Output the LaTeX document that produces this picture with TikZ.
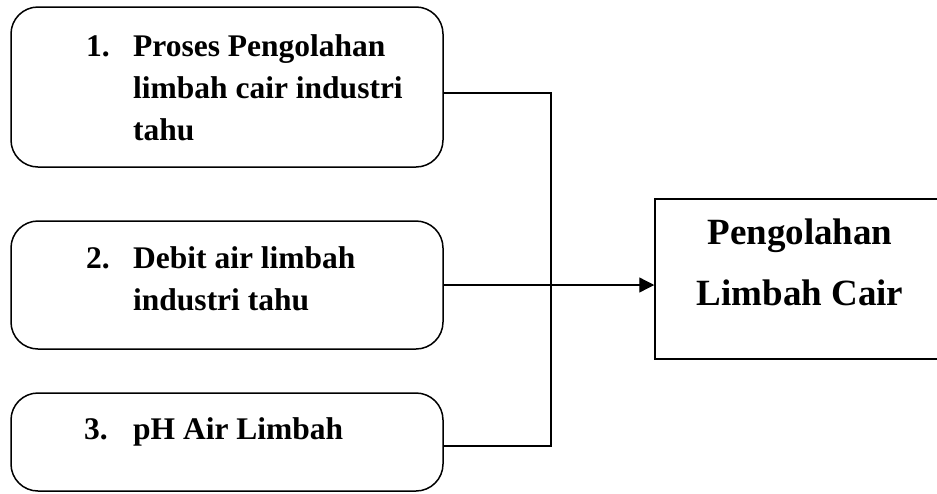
\documentclass[tikz,border=0pt]{standalone}
\usepackage{fontspec}
\setmainfont{Liberation Serif}
\usetikzlibrary{arrows.meta,calc}

\begin{document}
\begin{tikzpicture}[x=1pt, y=-1pt, >={Triangle[length=15pt,width=15pt]},
  faktor/.style={draw, line width=1.5pt, rounded corners=27pt, minimum width=432pt, inner sep=0pt},
  hasil/.style={draw, line width=1.5pt, minimum width=290pt, minimum height=160pt, inner sep=0pt},
  isi/.style={anchor=base west, inner sep=0pt, font=\fontsize{31.5}{42}\selectfont\bfseries},
  judul/.style={anchor=base, inner sep=0pt, font=\fontsize{37}{44}\selectfont\bfseries},
  link/.style={line width=1.3pt}]
  \clip (0,0) rectangle (937,493);

  % --- kotak faktor (kiri) ---
  \node[faktor, minimum height=160pt] (b1) at (227,87) {};
  \node[faktor, minimum height=128pt] (b2) at (227,285) {};
  \node[faktor, minimum height=98pt] (b3) at (227,442) {};

  \node[isi] (t1) at (86,56) {\begin{tabular}[t]{@{}p{47pt}@{}l@{}}
    1. & Proses Pengolahan\\ & limbah cair industri\\ & tahu\end{tabular}};
  \node[isi] (t2) at (86,268) {\begin{tabular}[t]{@{}p{47pt}@{}l@{}}
    2. & Debit air limbah\\ & industri tahu\end{tabular}};
  \node[isi] (t3) at (84,439) {\begin{tabular}[t]{@{}p{49pt}@{}l@{}}
    3. & pH Air Limbah\end{tabular}};

  % --- kotak hasil (kanan) ---
  \node[hasil] (res) at (800,279) {};
  \node[judul] (r1) at (800,244) {Pengolahan};
  \node[judul] (r2) at (800,305) {Limbah Cair};

  % --- penghubung ---
  \coordinate (top) at (551,93);
  \draw[link] ([yshift=-6pt]b1.east) -- (top) |- ([yshift=-4pt]b3.east);
  \draw[link, ->] (b2.east) -- (b2.east -| res.west);
\end{tikzpicture}
\end{document}
